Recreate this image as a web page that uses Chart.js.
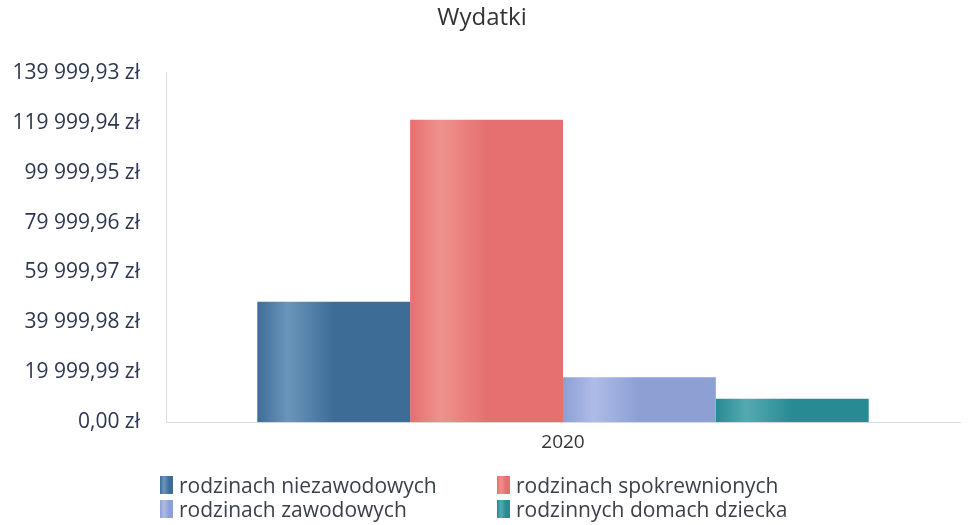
<!DOCTYPE html>
<html>
<head>
<meta charset="utf-8">
<script src="https://cdn.jsdelivr.net/npm/chart.js@4/dist/chart.umd.min.js"></script>
<style>
  body { margin: 0; background: #fff; font-family: "Open Sans", sans-serif; }
  #wrap { position: relative; width: 968px; height: 525px; }
  #legend { position: absolute; left: 160px; top: 473px; display: grid;
            grid-template-columns: 337px 300px; row-gap: 1px; }
  .item { display: flex; align-items: center; font-size: 21px; color: #3a3f4a; height: 23px; }
  .box { width: 13px; height: 18px; margin-right: 6px; }
</style>
</head>
<body>
<div id="wrap">
  <canvas id="graphCanvas" width="968" height="525"></canvas>
  <div id="legend"></div>
</div>
<script>
// Chart data
const categories = ['2020'];
const seriesNames = ['rodzinach niezawodowych', 'rodzinach spokrewnionych', 'rodzinach zawodowych', 'rodzinnych domach dziecka'];
const seriesValues = [48300, 121200, 18000, 9400];
const yTicks = [0, 19999.99, 39999.98, 59999.97, 79999.96, 99999.95, 119999.94, 139999.93];

// base colour and highlight for each series
const baseColors = ['#3d6d97', '#e5706f', '#8d9fd3', '#288a93'];
const lightColors = ['#6c95ba', '#ee928e', '#aebce6', '#55aab0'];

const formatZl = (v) => {
    const [intPart, dec] = v.toFixed(2).split('.');
    return intPart.replace(/\B(?=(\d{3})+(?!\d))/g, ' ') + ',' + dec + ' zł';
};

// horizontal shading on each bar
const shadePlugin = {
    id: 'shade',
    beforeDatasetsDraw(chart) {
        const ctx = chart.ctx;
        chart.data.datasets.forEach((ds, i) => {
            chart.getDatasetMeta(i).data.forEach(el => {
                const left = el.x - el.width / 2;
                const g = ctx.createLinearGradient(left, 0, left + el.width, 0);
                g.addColorStop(0, baseColors[i]);
                g.addColorStop(0.2, lightColors[i]);
                g.addColorStop(0.5, baseColors[i]);
                g.addColorStop(1, baseColors[i]);
                el.options = Object.assign({}, el.options, { backgroundColor: g });
            });
        });
    }
};

const renderGraph = () => {
    const ctx = document.getElementById('graphCanvas').getContext('2d');
    new Chart(ctx, {
        type: 'bar',
        data: {
            labels: categories,
            datasets: seriesNames.map((name, i) => ({
                label: name,
                data: [seriesValues[i]],
                backgroundColor: baseColors[i],
                borderWidth: 0
            }))
        },
        plugins: [shadePlugin],
        options: {
            responsive: false,
            animation: false,
            layout: { padding: { left: 4, right: 8, top: 2, bottom: 62 } },
            plugins: {
                legend: { display: false },
                tooltip: { enabled: false },
                title: {
                    display: true,
                    text: 'Wydatki',
                    color: '#333',
                    font: { family: 'Open Sans', size: 24, weight: 'normal' },
                    padding: { top: 2, bottom: 40 }
                }
            },
            datasets: { bar: { categoryPercentage: 0.77, barPercentage: 1 } },
            scales: {
                x: {
                    grid: { display: false, drawTicks: false },
                    border: { color: '#d8dde3' },
                    ticks: { color: '#333', font: { family: 'Open Sans', size: 19 }, padding: 9 }
                },
                y: {
                    min: 0,
                    max: 139999.93,
                    afterBuildTicks: (axis) => { axis.ticks = yTicks.map(v => ({ value: v })); },
                    afterFit: (axis) => { axis.width = 162; },
                    grid: { display: false, drawTicks: false },
                    border: { color: '#d8dde3', dash: [3, 3] },
                    ticks: {
                        color: '#2e3650',
                        font: { family: 'Open Sans', size: 21 },
                        padding: 26,
                        callback: (v) => formatZl(v)
                    }
                }
            }
        }
    });
};

// HTML legend in two columns
const renderLegend = () => {
    const legend = document.getElementById('legend');
    const order = [0, 1, 2, 3];
    order.forEach(i => {
        const item = document.createElement('div');
        item.className = 'item';
        const box = document.createElement('span');
        box.className = 'box';
        box.style.background = `linear-gradient(90deg, ${baseColors[i]} 0%, ${lightColors[i]} 30%, ${baseColors[i]} 70%)`;
        item.appendChild(box);
        item.appendChild(document.createTextNode(seriesNames[i]));
        legend.appendChild(item);
    });
};

renderGraph();
renderLegend();
</script>
</body>
</html>
